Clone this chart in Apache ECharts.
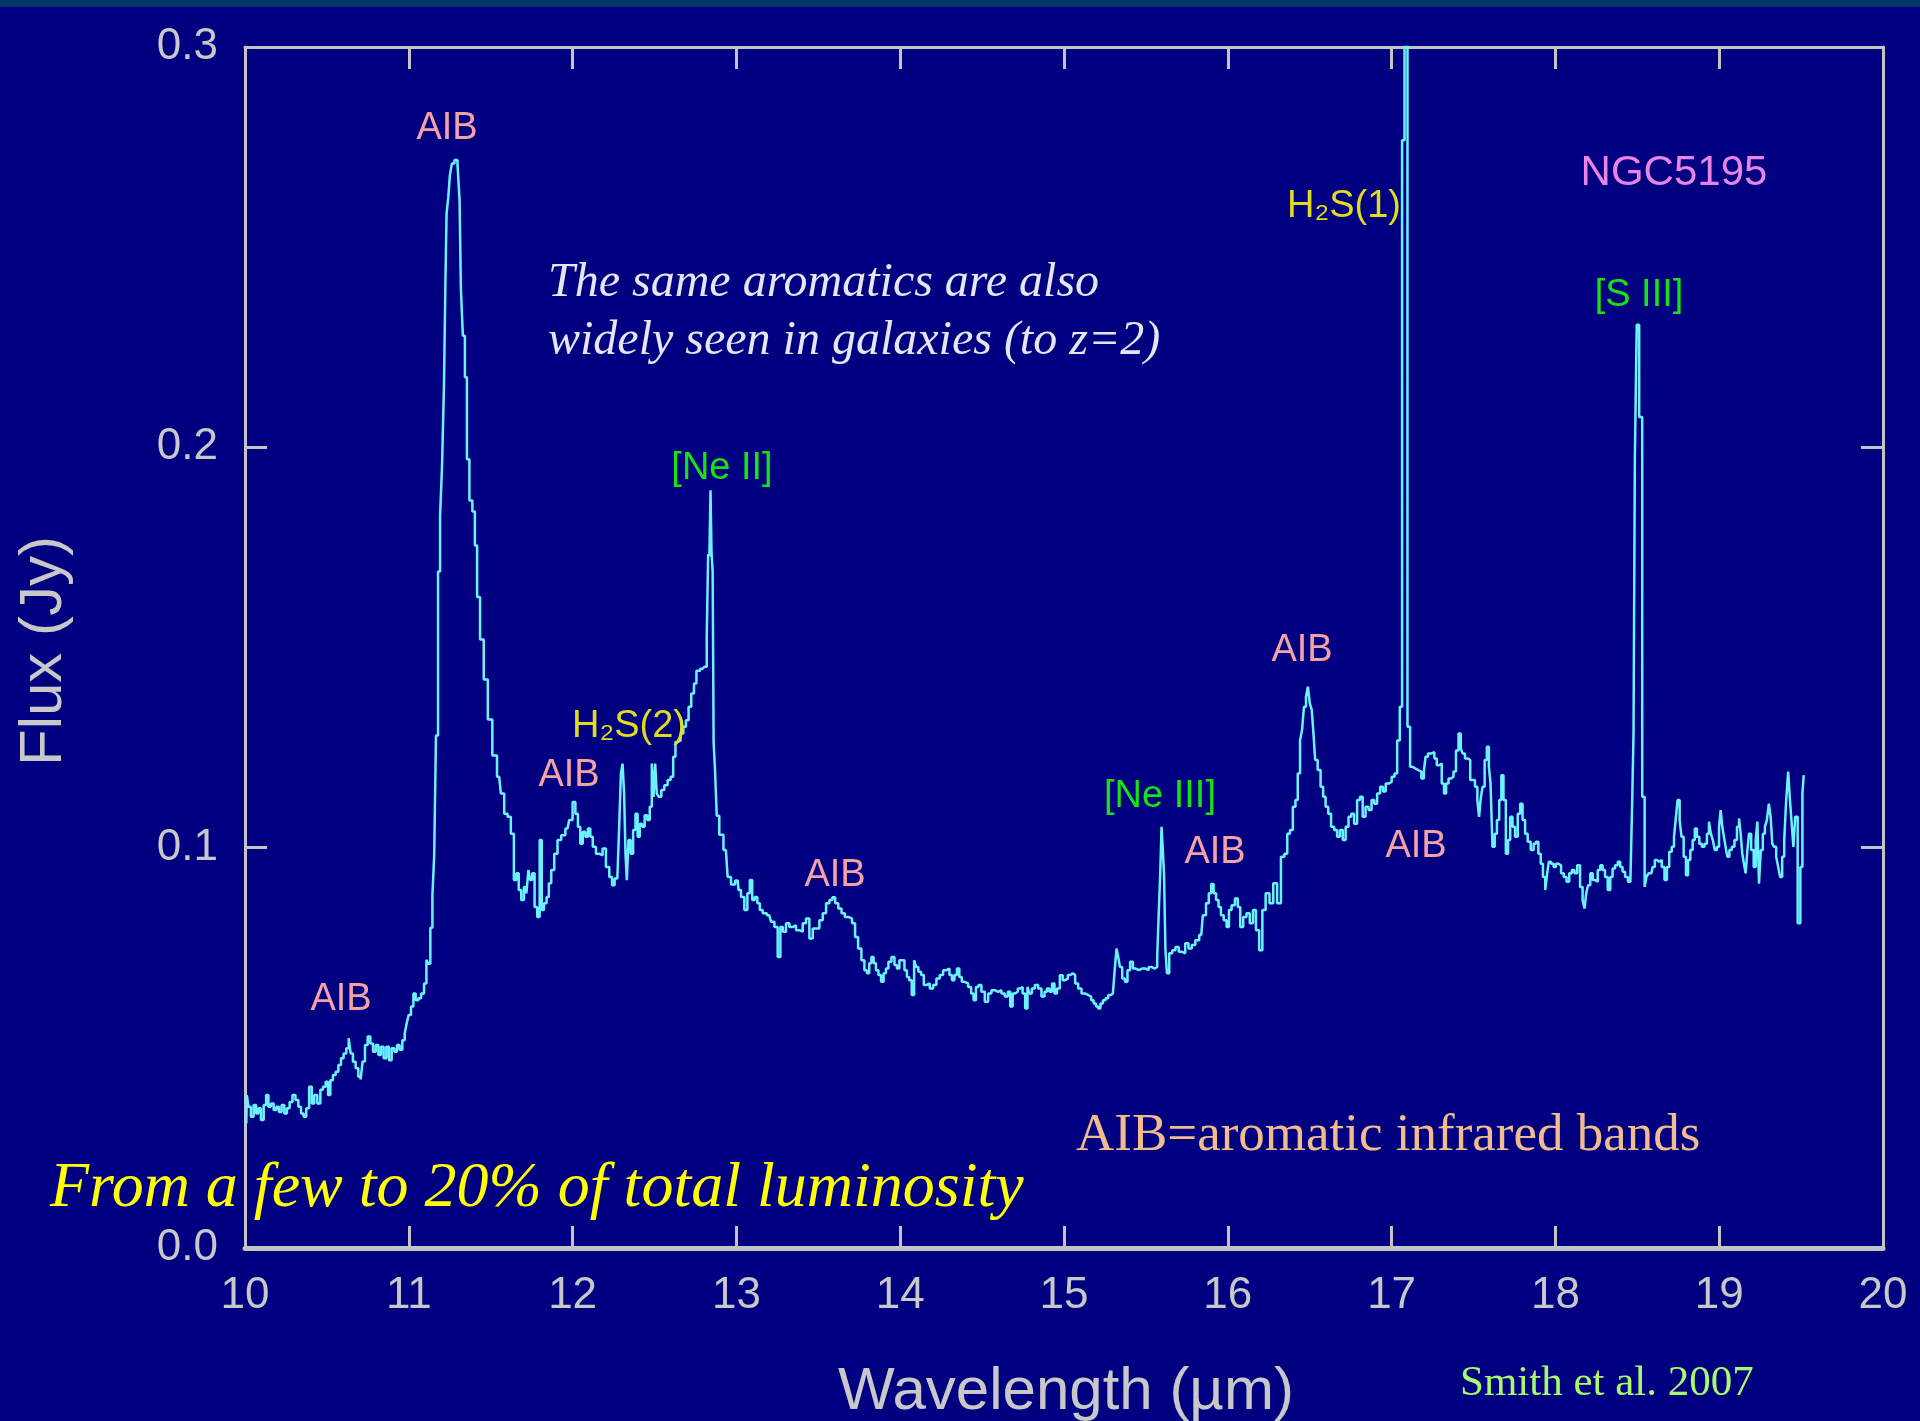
<!DOCTYPE html>
<html>
<head>
<meta charset="utf-8">
<script src="https://cdn.jsdelivr.net/npm/echarts@6/dist/echarts.min.js"></script>
<style>
html,body{margin:0;padding:0;background:#000080;}
#chart{width:1920px;height:1421px;}
</style>
</head>
<body>
<div id="chart"></div>
<script>
// ---- Axis ticks ----
const xTicks = [10, 11, 12, 13, 14, 15, 16, 17, 18, 19, 20];
const yTicks = [0.0, 0.1, 0.2, 0.3];

// ---- Spectrum of NGC5195: [wavelength (µm), flux (Jy)] ----
const continuum10to11 = [
[10.008,.0311],[10.014,.0382],[10.028,.0353],[10.044,.0328],[10.061,.0357],[10.075,.0336],[10.089,.0349],[10.106,.0320],
[10.122,.0357],[10.136,.0382],[10.150,.0353],[10.167,.0361],[10.183,.0345],[10.199,.0353],[10.215,.0340],[10.232,.0357],
[10.248,.0336],[10.264,.0349],[10.281,.0365],[10.299,.0382],[10.317,.0370],[10.334,.0353],[10.350,.0336],[10.366,.0328],
[10.382,.0349],[10.401,.0403],[10.415,.0361],[10.431,.0382],[10.452,.0361],[10.468,.0395],[10.484,.0403],[10.501,.0415],
[10.513,.0382],[10.529,.0419],[10.545,.0432],[10.562,.0440],[10.578,.0457],[10.594,.0474],[10.610,.0486],[10.627,.0499],
[10.639,.0524],[10.651,.0486],[10.667,.0465],[10.684,.0449],[10.700,.0428],[10.712,.0421],[10.724,.0466],[10.741,.0507],
[10.757,.0528],[10.773,.0511],[10.790,.0490],[10.806,.0507],[10.822,.0482],[10.838,.0503],[10.855,.0474],[10.871,.0503],
[10.887,.0469],[10.904,.0499],[10.920,.0490],[10.936,.0507],[10.952,.0495],[10.969,.0519],[10.981,.0536],[10.993,.0561],
[11.005,.0582],[11.022,.0603],[11.034,.0636],[11.050,.0619],[11.067,.0624],[11.083,.0636],[11.103,.0661]
];
const band11p3 = [
[11.112,.0720],[11.125,.0710],[11.138,.0800],[11.150,.0880],[11.160,.0980],[11.172,.1280],[11.185,.1690],[11.197,.1830],
[11.209,.1955],[11.221,.2160],[11.225,.2400],[11.236,.2583],[11.246,.2625],[11.256,.2680],[11.270,.2709],[11.287,.2718],
[11.307,.2709],[11.313,.2617],[11.323,.2396],[11.337,.2279],[11.348,.2175],[11.362,.1970],[11.378,.1867],[11.398,.1840],
[11.409,.1755],[11.425,.1626],[11.445,.1520],[11.470,.1420],[11.495,.1320],[11.525,.1230]
];
const band12 = [
[11.552,.1177],[11.572,.1135],[11.593,.1085],[11.613,.1077],[11.633,.1035],[11.650,.0919],[11.664,.0936],[11.678,.0894],
[11.695,.0869],[11.711,.0902],[11.725,.0886],[11.735,.0944],[11.747,.0919],[11.760,.0936],[11.776,.0852],[11.792,.0827],
[11.806,.1019],[11.817,.0844],[11.833,.0861],[11.849,.0877],[11.861,.0911],[11.878,.0944],[11.898,.0985],[11.918,.1019],
[11.943,.1031],[11.969,.1048],[11.990,.1069],[12.010,.1114],[12.024,.1085],[12.041,.1052],[12.053,.1010],[12.071,.1040],
[12.085,.1027],[12.102,.1048],[12.114,.1027],[12.132,.1002],[12.153,.0985],[12.173,.0981],[12.193,.0998],[12.214,.0952],
[12.234,.0927],[12.248,.0906],[12.265,.0923],[12.281,.0919],[12.289,.1060],[12.301,.1185],[12.309,.1210],[12.320,.1135],
[12.326,.0985],[12.336,.0919],[12.346,.1019],[12.362,.0985],[12.377,.1044],[12.391,.1085],[12.403,.1027],[12.417,.1060],
[12.432,.1052],[12.448,.1081],[12.464,.1069],[12.478,.1102],[12.489,.1210],[12.499,.1127],[12.509,.1210],[12.519,.1135],
[12.533,.1127],[12.550,.1144],[12.570,.1156],[12.590,.1169],[12.607,.1177],[12.621,.1227],[12.635,.1264],[12.651,.1268],
[12.668,.1285],[12.684,.1302],[12.700,.1318],[12.716,.1352],[12.733,.1385],[12.749,.1410]
];
const lineNeII = [
[12.763,.1442],[12.794,.1447],[12.814,.1452],[12.824,.1528],[12.831,.1733],[12.839,.1728],[12.845,.1893],[12.851,.1738],
[12.859,.1690],[12.863,.1261],[12.875,.1199],[12.885,.1080],[12.906,.1032],[12.936,.0994],[12.957,.0927],[12.977,.0908],
[13.008,.0918]
];
const plateau13to16 = [
[13.018,.0894],[13.038,.0877],[13.059,.0844],[13.075,.0886],[13.089,.0919],[13.104,.0869],[13.120,.0877],[13.136,.0861],
[13.150,.0844],[13.171,.0836],[13.201,.0831],[13.222,.0815],[13.242,.0802],[13.262,.0727],[13.275,.0802],[13.293,.0790],
[13.313,.0811],[13.334,.0802],[13.354,.0806],[13.374,.0794],[13.395,.0790],[13.415,.0811],[13.435,.0823],[13.456,.0773],
[13.476,.0798],[13.496,.0798],[13.517,.0819],[13.537,.0836],[13.558,.0861],[13.578,.0869],[13.594,.0876],[13.612,.0861],
[13.632,.0848],[13.652,.0836],[13.672,.0827],[13.696,.0823],[13.716,.0811],[13.733,.0777],[13.753,.0748],[13.773,.0719],
[13.790,.0694],[13.804,.0686],[13.818,.0711],[13.830,.0727],[13.845,.0711],[13.859,.0694],[13.875,.0682],[13.891,.0665],
[13.906,.0686],[13.920,.0698],[13.936,.0715],[13.957,.0727],[13.973,.0707],[13.987,.0698],[14.003,.0719],[14.018,.0719],
[14.034,.0694],[14.048,.0677],[14.062,.0669],[14.079,.0632],[14.091,.0719],[14.103,.0702],[14.119,.0690],[14.136,.0682],
[14.152,.0657],[14.170,.0661],[14.191,.0648],[14.211,.0657],[14.231,.0673],[14.252,.0682],[14.272,.0694],[14.292,.0698],
[14.309,.0682],[14.323,.0669],[14.339,.0682],[14.354,.0698],[14.368,.0677],[14.384,.0665],[14.404,.0661],[14.425,.0652],
[14.441,.0636],[14.455,.0619],[14.470,.0652],[14.486,.0657],[14.506,.0640],[14.527,.0615],[14.547,.0636],[14.567,.0644],
[14.588,.0640],[14.608,.0644],[14.628,.0636],[14.649,.0628],[14.665,.0640],[14.679,.0603],[14.694,.0636],[14.710,.0640],
[14.726,.0648],[14.740,.0652],[14.755,.0636],[14.771,.0598],[14.783,.0652],[14.795,.0636],[14.812,.0648],[14.832,.0657],
[14.852,.0648],[14.873,.0628],[14.889,.0640],[14.903,.0648],[14.920,.0640],[14.934,.0661],[14.950,.0636],[14.964,.0648],
[14.985,.0681],[14.999,.0669],[15.015,.0673],[15.032,.0682],[15.046,.0686],[15.060,.0682],[15.076,.0661],[15.097,.0648],
[15.117,.0636],[15.137,.0632],[15.158,.0628],[15.174,.0619],[15.188,.0611],[15.203,.0603],[15.215,.0598],[15.230,.0611],
[15.245,.0619],[15.262,.0624],[15.278,.0632],[15.293,.0636],[15.304,.0640],[15.315,.0694],[15.326,.0748],[15.336,.0727],
[15.347,.0702],[15.364,.0673],[15.380,.0665],[15.395,.0694],[15.412,.0715],[15.429,.0698],[15.447,.0694],[15.466,.0698],
[15.487,.0698],[15.509,.0694],[15.524,.0702],[15.545,.0698],[15.563,.0702],[15.575,.0727],[15.583,.0844],[15.592,.0936],
[15.599,.1052],[15.606,.1000],[15.615,.0936],[15.623,.0748],[15.634,.0686],[15.651,.0736],[15.671,.0744],[15.690,.0752],
[15.711,.0740],[15.730,.0736],[15.750,.0761],[15.770,.0748],[15.790,.0757],[15.813,.0769],[15.838,.0782],[15.857,.0831],
[15.877,.0861],[15.891,.0886],[15.906,.0909],[15.921,.0886],[15.936,.0869],[15.951,.0852],[15.965,.0831],[15.985,.0819],
[16.000,.0802],[16.014,.0844],[16.033,.0856],[16.054,.0873],[16.068,.0852],[16.084,.0802],[16.104,.0827],[16.124,.0836],
[16.144,.0811],[16.164,.0844],[16.180,.0794]
];
const band16p4 = [
[16.203,.0744],[16.219,.0844],[16.243,.0886],[16.266,.0861],[16.289,.0911],[16.313,.0861],[16.336,.0977],[16.355,.0985],
[16.371,.1035],[16.388,.1044],[16.406,.1102],[16.420,.1119],[16.434,.1185],[16.448,.1268],[16.458,.1293],[16.472,.1352],
[16.483,.1377],[16.495,.1402],[16.507,.1360],[16.518,.1344],[16.528,.1285],[16.539,.1219],[16.558,.1194],[16.575,.1152],
[16.589,.1127],[16.605,.1102],[16.621,.1085],[16.640,.1052],[16.659,.1044],[16.675,.1027],[16.694,.1044],[16.710,.1019],
[16.729,.1052],[16.745,.1077],[16.762,.1085],[16.780,.1060],[16.799,.1119],[16.815,.1127],[16.832,.1077],[16.850,.1102],
[16.869,.1094],[16.886,.1119],[16.902,.1110],[16.921,.1135],[16.939,.1152],[16.956,.1140],[16.972,.1160],[16.991,.1164],
[17.010,.1177],[17.026,.1185],[17.042,.1268],[17.058,.1352]
];
const lineH2S1 = [
[17.070,.2767],[17.088,.3350],[17.106,.1302]
];
const band17 = [
[17.120,.1202],[17.135,.1198],[17.153,.1194],[17.171,.1190],[17.192,.1173],[17.202,.1190],[17.212,.1227],[17.232,.1235],
[17.253,.1239],[17.269,.1223],[17.283,.1206],[17.298,.1210],[17.314,.1160],[17.326,.1135],[17.340,.1160],[17.355,.1173],
[17.371,.1177],[17.385,.1190],[17.401,.1243],[17.416,.1285],[17.428,.1248],[17.440,.1235],[17.456,.1223],[17.473,.1219],
[17.487,.1169],[17.501,.1169],[17.517,.1152],[17.530,.1119],[17.538,.1077],[17.548,.1119],[17.562,.1152],[17.574,.1219],
[17.589,.1252],[17.599,.1202],[17.609,.1160],[17.623,.1002],[17.636,.1035],[17.650,.1069],[17.664,.1119],[17.676,.1181],
[17.690,.1119],[17.705,.0985],[17.717,.1019],[17.731,.1077],[17.745,.1052],[17.762,.1027],[17.778,.1085],[17.792,.1110],
[17.807,.1069],[17.823,.1035],[17.839,.1015],[17.860,.0994],[17.874,.1010],[17.888,.1015],[17.904,.0985],[17.917,.0960],
[17.931,.0927],[17.945,.0894],[17.955,.0936],[17.965,.0965],[17.982,.0960],[17.996,.0952],[18.010,.0960],[18.026,.0956],
[18.043,.0936],[18.059,.0927],[18.077,.0915],[18.092,.0936],[18.108,.0944],[18.124,.0936],[18.142,.0956],[18.159,.0902],
[18.173,.0869],[18.183,.0848],[18.193,.0886],[18.206,.0906],[18.220,.0936],[18.236,.0919],[18.250,.0915],[18.267,.0944],
[18.281,.0956],[18.295,.0944],[18.311,.0927],[18.328,.0894],[18.342,.0927],[18.356,.0948],[18.373,.0956],[18.389,.0965],
[18.403,.0952],[18.417,.0940],[18.434,.0927],[18.452,.0915],[18.464,.0920]
];
const lineSIII = [
[18.474,.1119],[18.480,.1285],[18.490,.1970],[18.503,.2306],[18.520,.2076],[18.540,.1127],[18.550,.0902]
];
const continuum19 = [
[18.562,.0927],[18.574,.0936],[18.586,.0936],[18.601,.0952],[18.613,.0969],[18.627,.0965],[18.641,.0969],[18.658,.0952],
[18.674,.0919],[18.688,.0952],[18.702,.0990],[18.719,.1002],[18.729,.1027],[18.739,.1069],[18.753,.1119],[18.764,.1069],
[18.776,.1027],[18.790,.0977],[18.804,.0931],[18.816,.0969],[18.831,.0994],[18.845,.1019],[18.857,.1048],[18.871,.1027],
[18.886,.1010],[18.902,.1002],[18.918,.1010],[18.932,.1035],[18.943,.1065],[18.955,.1035],[18.967,.1019],[18.979,.0994],
[18.994,.1002],[19.004,.1052],[19.014,.1094],[19.024,.1052],[19.034,.1027],[19.044,.1002],[19.055,.0977],[19.069,.0994],
[19.085,.1002],[19.101,.1019],[19.116,.1052],[19.126,.1073],[19.136,.1035],[19.146,.0985],[19.156,.0960],[19.167,.0936],
[19.177,.0994],[19.187,.1035],[19.203,.0994],[19.218,.0952],[19.228,.1019],[19.238,.1065],[19.248,.0910],[19.260,.0994],
[19.273,.1035],[19.285,.1052],[19.297,.1069],[19.309,.1110],[19.319,.1077],[19.329,.1010],[19.342,.1002],[19.354,.0977],
[19.366,.0952],[19.378,.0927],[19.391,.0977],[19.403,.1019],[19.415,.1119],[19.427,.1190],[19.437,.1119],[19.448,.1060],
[19.458,.1002],[19.470,.1077],[19.488,.0811],[19.503,.0952],[19.513,.1135],[19.519,.1181]
];

// ---- Text content ----
const featureLabels = ['AIB', 'AIB', 'AIB', 'H\u2082S(2)', '[Ne II]', 'AIB', '[Ne III]', 'AIB', 'AIB', 'H\u2082S(1)', 'AIB', '[S III]'];
const objectName = 'NGC5195';
const noteText = 'The same aromatics are also\nwidely seen in galaxies (to z=2)';
const lumText = 'From a few to 20% of total luminosity';
const aibText = 'AIB=aromatic infrared bands';
const refText = 'Smith et al. 2007';
const xTitle = 'Wavelength (\u00b5m)';
const yTitle = 'Flux (Jy)';

const spectrum = [].concat(continuum10to11, band11p3, band12, lineNeII, plateau13to16,
  band16p4, lineH2S1, band17, lineSIII, continuum19);

// ---- Styling / layout ----
const AXIS = '#c4c4c4';
const LBL = '#c8c8c8';
const SANS = '"Liberation Sans", Arial, Helvetica, sans-serif';
const SERIF = '"Liberation Serif", "Times New Roman", serif';
const PINK = '#f4a2a6', GREEN = '#16e216', YEL = '#e2dc1c';

// label placement (pixel) and color for each feature label
const labelPlace = [
  {x:447, y:129, c:PINK, a:'center'},
  {x:341, y:1000, c:PINK, a:'center'},
  {x:569, y:776, c:PINK, a:'center'},
  {x:572, y:727, c:YEL,  a:'left'},
  {x:722, y:469, c:GREEN,a:'center'},
  {x:835, y:876, c:PINK, a:'center'},
  {x:1160,y:797, c:GREEN,a:'center'},
  {x:1215,y:853, c:PINK, a:'center'},
  {x:1302,y:651, c:PINK, a:'center'},
  {x:1287,y:207, c:YEL,  a:'left'},
  {x:1416,y:847, c:PINK, a:'center'},
  {x:1639,y:296, c:GREEN,a:'center'}
];

const graphics = [
  {type:'rect', shape:{x:0,y:0,width:1920,height:7}, style:{fill:'#00366a'}, z:1},
];
featureLabels.forEach((t,i)=>{
  const p = labelPlace[i];
  graphics.push({type:'text', x:p.x, y:p.y, z:10,
    style:{text:t, font:'38px '+SANS, fill:p.c, textAlign:p.a, textVerticalAlign:'middle'}});
});
graphics.push(
  {type:'text', x:1674, y:173, z:10, style:{text:objectName, font:'42px '+SANS, fill:'#e884e6', textAlign:'center', textVerticalAlign:'middle'}},
  {type:'text', x:548, y:254, z:10, style:{text:noteText, font:'italic 48px '+SERIF, fill:'#e6e6f2', textAlign:'left', textVerticalAlign:'top', lineHeight:58}},
  {type:'text', x:50, y:1189, z:10, style:{text:lumText, font:'italic 64px '+SERIF, fill:'#ffff00', textAlign:'left', textVerticalAlign:'middle'}},
  {type:'text', x:1076, y:1136, z:10, style:{text:aibText, font:'53px '+SERIF, fill:'#f2bc8c', textAlign:'left', textVerticalAlign:'middle'}},
  {type:'text', x:1460, y:1384, z:10, style:{text:refText, font:'43px '+SERIF, fill:'#a6fa6c', textAlign:'left', textVerticalAlign:'middle'}},
  {type:'text', x:1066, y:1392, z:10, style:{text:xTitle, font:'60px '+SANS, fill:LBL, textAlign:'center', textVerticalAlign:'middle'}},
  {type:'text', x:44, y:651, rotation:Math.PI/2, z:10, style:{text:yTitle, font:'60px '+SANS, fill:LBL, textAlign:'center', textVerticalAlign:'middle'}}
);

const chart = echarts.init(document.getElementById('chart'), null, {renderer:'canvas', width:1920, height:1421});
const baseAxis = (extra) => Object.assign({
  type:'value', splitLine:{show:false},
  axisLine:{show:true, onZero:false, lineStyle:{color:AXIS, width:3}},
  axisTick:{show:true, inside:true, length:22, lineStyle:{color:AXIS, width:3}},
}, extra);

chart.setOption({
  backgroundColor:'#000080',
  animation:false,
  grid:{left:245, right:37, top:47, bottom:173, containLabel:false},
  xAxis:[
    baseAxis({position:'bottom', min:xTicks[0], max:xTicks[xTicks.length-1], interval:1,
      axisLine:{show:true, onZero:false, lineStyle:{color:AXIS, width:5}},
      axisLabel:{show:true, color:LBL, fontSize:44, fontFamily:SANS, margin:26}}),
    baseAxis({position:'top', min:xTicks[0], max:xTicks[xTicks.length-1], interval:1, axisLabel:{show:false}})
  ],
  yAxis:[
    baseAxis({position:'left', min:yTicks[0], max:yTicks[yTicks.length-1], interval:0.1,
      axisLabel:{show:true, color:LBL, fontSize:44, fontFamily:SANS, margin:27, formatter:v=>v.toFixed(1)}}),
    baseAxis({position:'right', min:yTicks[0], max:yTicks[yTicks.length-1], interval:0.1, axisLabel:{show:false}})
  ],
  series:[{
    type:'line', xAxisIndex:0, yAxisIndex:0, data:spectrum, step:'middle',
    showSymbol:false, symbol:'none', clip:true,
    lineStyle:{color:'#6cf2ff', width:2.5}
  }],
  graphic:graphics
});
</script>
</body>
</html>
